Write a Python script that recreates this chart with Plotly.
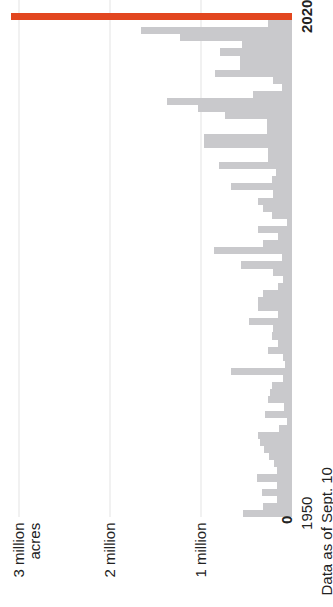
import plotly.graph_objects as go

years = list(range(1950, 2021))
# acres burned, millions (1950 .. 2020)
acres = [
    0.54, 0.32, 0.17, 0.33, 0.17, 0.38, 0.17, 0.20, 0.25, 0.31,  # 1950-1959
    0.35, 0.37, 0.14, 0.05, 0.30, 0.09, 0.26, 0.24, 0.22, 0.10,  # 1960-1969
    0.67, 0.08, 0.10, 0.26, 0.15, 0.22, 0.21, 0.47, 0.15, 0.37,  # 1970-1979
    0.37, 0.32, 0.15, 0.10, 0.21, 0.56, 0.11, 0.86, 0.32, 0.15,  # 1980-1989
    0.37, 0.05, 0.22, 0.32, 0.37, 0.21, 0.67, 0.22, 0.18, 0.80,  # 1990-1999
    0.26, 0.26, 0.97, 0.97, 0.27, 0.27, 0.74, 1.03, 1.37, 0.43,  # 2000-2009
    0.11, 0.21, 0.85, 0.57, 0.57, 0.79, 0.55, 1.23, 1.66, 0.26,  # 2010-2019
    3.085,                                                       # 2020
]
grid_vals = [1, 2, 3]
grid_labels = ["1 million", "2 million", "3 million"]

GREY = "#c9c9cc"
RED = "#e2461f"
TXT = "#222222"
FONT = "Liberation Sans, Arial, sans-serif"

colors = [RED if y == 2020 else GREY for y in years]

fig = go.Figure()
fig.add_trace(go.Bar(
    x=acres, y=years, orientation="h",
    marker=dict(color=colors, line=dict(width=0)),
    hoverinfo="skip",
))

W, H = 333, 607
ml, mr, mt, mb = 0, 41, 13, 90
plot_h = H - mt - mb
plot_w = W - ml - mr
px_per_m = 91.0

shapes = []
for v in grid_vals:
    shapes.append(dict(
        type="line", xref="x", yref="paper",
        x0=v, x1=v, y0=0, y1=1 + mt / plot_h,
        line=dict(color="#e3e3e3", width=1), layer="below",
    ))


def ypix_to_paper(py):
    return (H - mb - py) / plot_h


annotations = []
for v, lab in zip(grid_vals, grid_labels):
    annotations.append(dict(
        x=v, xref="x", y=ypix_to_paper(521), yref="paper",
        text=lab, textangle=-90, showarrow=False,
        xanchor="center", yanchor="top", xshift=-1,
        font=dict(family=FONT, size=15, color=TXT),
    ))
annotations.append(dict(
    x=3, xref="x", y=ypix_to_paper(521), yref="paper",
    text="acres", textangle=-90, showarrow=False,
    xanchor="center", yanchor="top", xshift=15,
    font=dict(family=FONT, size=15, color=TXT),
))
annotations.append(dict(
    x=0, xref="x", y=ypix_to_paper(514), yref="paper",
    text="<b>0</b>", textangle=-90, showarrow=False,
    xanchor="center", yanchor="top", xshift=-6,
    font=dict(family=FONT, size=15, color=TXT),
))
annotations.append(dict(
    x=0, xref="x", y=1950, yref="y",
    text="1950", textangle=-90, showarrow=False,
    xanchor="left", yanchor="middle", xshift=4,
    font=dict(family=FONT, size=15, color=TXT),
))
annotations.append(dict(
    x=0, xref="x", y=2020, yref="y",
    text="<b>2020</b>", textangle=-90, showarrow=False,
    xanchor="left", yanchor="middle", xshift=4,
    font=dict(family=FONT, size=15, color=TXT),
))
annotations.append(dict(
    x=0, xref="x", y=ypix_to_paper(466), yref="paper",
    text="Data as of Sept. 10", textangle=-90, showarrow=False,
    xanchor="left", yanchor="top", xshift=23,
    font=dict(family=FONT, size=15, color=TXT),
))

fig.update_layout(
    width=W, height=H,
    margin=dict(l=ml, r=mr, t=mt, b=mb, pad=0),
    paper_bgcolor="white", plot_bgcolor="white",
    bargap=0, showlegend=False,
    xaxis=dict(range=[plot_w / px_per_m, 0], showgrid=False, zeroline=False,
               showticklabels=False, showline=False, fixedrange=True),
    yaxis=dict(range=[1949.5, 2020.5], showgrid=False, zeroline=False,
               showticklabels=False, showline=False, fixedrange=True),
    shapes=shapes, annotations=annotations,
)

fig.write_html(
    "out.html",
    config={"displayModeBar": False},
    post_script="document.body.style.margin='0';document.body.style.overflow='hidden';",
)
